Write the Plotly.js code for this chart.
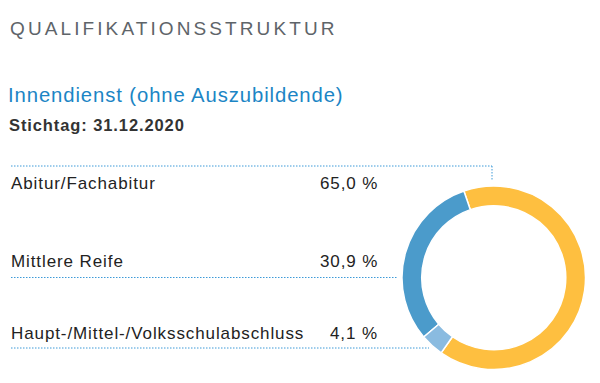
<!DOCTYPE html>
<html>
<head>
<meta charset="utf-8">
<script src="https://cdn.plot.ly/plotly-3.0.1.min.js"></script>
<style>
html, body { margin: 0; padding: 0; background: #fff; }
#chart { width: 600px; height: 383px; }
.gtitle { letter-spacing: 3.1px; }
.annotation-text { letter-spacing: 0.9px; }
</style>
</head>
<body>
<div id="chart"></div>
<script>
const heading = "QUALIFIKATIONSSTRUKTUR";
const subtitle = "Innendienst (ohne Auszubildende)";
const dateLabel = "Stichtag: 31.12.2020";
const categories = ["Abitur/Fachabitur", "Mittlere Reife", "Haupt-/Mittel-/Volksschulabschluss"];
const values = [65.0, 30.9, 4.1];
const colors = ["#FEBF40", "#4B9BCB", "#8ABBE0"];

const W = 600, H = 383;
const px = x => x / W;
const py = y => 1 - y / H;

const fontFam = "Liberation Sans, Arial, sans-serif";
const rowY = [183, 261, 333];
const lineY = [166, 277.5, 348];
const lineEnd = [492, 397, 429];
const fmt = v => v.toFixed(1).replace(".", ",") + " %";

const annotations = [
  {text: subtitle, x: px(6), y: py(95), xanchor: "left", yanchor: "middle",
   font: {family: fontFam, size: 20.3, color: "#1B85C5"}},
  {text: "<b>" + dateLabel + "</b>", x: px(7), y: py(125), xanchor: "left", yanchor: "middle",
   font: {family: fontFam, size: 16.5, color: "#333333"}}
];
categories.forEach((c, i) => {
  annotations.push({text: c, x: px(9), y: py(rowY[i]), xanchor: "left", yanchor: "middle",
    font: {family: fontFam, size: 17, color: "#222222"}});
  annotations.push({text: fmt(values[i]), x: px(380), y: py(rowY[i]), xanchor: "right", yanchor: "middle",
    font: {family: fontFam, size: 17, color: "#222222"}});
});
annotations.forEach(a => { a.xref = "paper"; a.yref = "paper"; a.showarrow = false; });

const lineStyle = {color: "#3D9AD8", width: 1, dash: "1.5px,1.5px"};
const shapes = [];
lineY.forEach((y, i) => {
  shapes.push({type: "line", xref: "paper", yref: "paper", x0: px(11), x1: px(lineEnd[i]), y0: py(y), y1: py(y), line: lineStyle});
});
shapes.push({type: "line", xref: "paper", yref: "paper", x0: px(492), x1: px(492), y0: py(166), y1: py(181), line: lineStyle});

const data = [{
  type: "pie",
  labels: categories,
  values: values,
  hole: 0.785,
  sort: false,
  direction: "counterclockwise",
  rotation: -19,
  marker: {colors: colors, line: {color: "#ffffff", width: 1.5}},
  textinfo: "none",
  hoverinfo: "label+percent",
  domain: {x: [px(402), px(585.5)], y: [py(369.5), py(186)]}
}];

const layout = {
  width: W, height: H,
  margin: {l: 0, r: 0, t: 0, b: 0},
  paper_bgcolor: "#ffffff",
  plot_bgcolor: "#ffffff",
  showlegend: false,
  title: {text: heading, x: px(10), xanchor: "left", xref: "container", y: py(28), yanchor: "middle", yref: "container",
    font: {family: fontFam, size: 19, color: "#5E6469"}},
  annotations: annotations,
  shapes: shapes
};

Plotly.newPlot("chart", data, layout, {displayModeBar: false, staticPlot: true});
</script>
</body>
</html>
